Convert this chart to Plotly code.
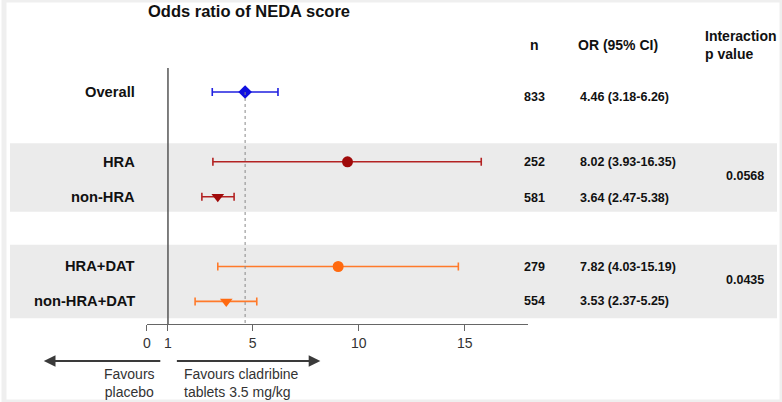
import plotly.graph_objects as go

# ---- data ----
labels = ["Overall", "HRA", "non-HRA", "HRA+DAT", "non-HRA+DAT"]
rows = [0, 2, 3, 5, 6]
or_point = [4.64, 9.47, 3.35, 9.03, 3.75]
ci_low = [3.09, 3.12, 2.60, 3.35, 2.28]
ci_high = [6.19, 15.78, 4.12, 14.70, 5.19]
n_values = ["833", "252", "581", "279", "554"]
or_text = ["4.46 (3.18-6.26)", "8.02 (3.93-16.35)", "3.64 (2.47-5.38)",
           "7.82 (4.03-15.19)", "3.53 (2.37-5.25)"]
p_values = ["0.0568", "0.0435"]
p_rows = [2.4, 5.4]
symbols = ["diamond", "circle", "triangle-down", "circle", "triangle-down"]
colors = ["#1010e0", "#a00a0a", "#a00a0a", "#ff6a10", "#ff6a10"]
line_colors = ["#2020e0", "#b32222", "#b32222", "#ff7a2a", "#ff7a2a"]
tick_vals = [0, 1, 5, 10, 15]

W, H = 782, 402
FONT = "Liberation Sans, Arial, Helvetica, sans-serif"

fig = go.Figure()

for i in range(len(labels)):
    fig.add_trace(go.Scatter(
        x=[or_point[i]], y=[rows[i]], mode="markers",
        marker=dict(symbol=symbols[i], size=11 if symbols[i] != "diamond" else 10.5,
                    color=colors[i], line=dict(width=0)),
        error_x=dict(type="data", symmetric=False,
                     array=[ci_high[i] - or_point[i]],
                     arrayminus=[or_point[i] - ci_low[i]],
                     color=line_colors[i], thickness=1.6, width=4),
        showlegend=False, hoverinfo="skip"))

# grey bands
for (y0, y1) in [(1.47, 3.43), (4.38, 6.48)]:
    fig.add_shape(type="rect", xref="paper", yref="y", x0=6 / W, x1=777 / W,
                  y0=y0, y1=y1, fillcolor="#ebebeb", line=dict(width=0), layer="below")

# reference lines
fig.add_shape(type="line", xref="x", yref="y", x0=1, x1=1, y0=-0.69, y1=6.648,
              line=dict(color="#555555", width=1.5))
fig.add_shape(type="line", xref="x", yref="y", x0=or_point[0], x1=or_point[0],
              y0=0, y1=6.648, line=dict(color="#888888", width=1, dash="dot"))

# border
fig.add_shape(type="rect", xref="paper", yref="paper", x0=0, x1=1, y0=0, y1=1,
              line=dict(color="#efefef", width=5), fillcolor="rgba(0,0,0,0)")

ann = []
def txt(text, x, y, size, bold=True, xanchor="center", xref="paper", yref="y", color="#111111", align="center"):
    ann.append(dict(text=f"<b>{text}</b>" if bold else text, x=x, y=y, xref=xref, yref=yref,
                    xanchor=xanchor, yanchor="middle", showarrow=False, align=align,
                    font=dict(family=FONT, size=size, color=color)))

txt("Odds ratio of NEDA score", 246.5 / W, -2.32, 16.5)
txt("n", 533 / W, -1.35, 14)
txt("OR (95% CI)", 617.5 / W, -1.35, 14)
txt("Interaction<br>p value", 703 / W, -1.35, 14, xanchor="left", align="left")

offsets = [0.15, 0, 0.03, 0.02, 0]
for i in range(len(labels)):
    txt(labels[i], 133.5 / W, rows[i], 14.7, xanchor="right")
    txt(n_values[i], 533 / W, rows[i] + offsets[i], 12.5)
    txt(or_text[i], 577 / W, rows[i] + offsets[i], 12.5, xanchor="left")
for j in range(len(p_values)):
    txt(p_values[j], 724 / W, p_rows[j] + 0.0, 12.5, xanchor="left")

# favours text
txt("Favours<br>placebo", 126 / W, 1 - 382.5 / H, 14, bold=False, yref="paper", color="#333333")
txt("Favours cladribine<br>tablets 3.5 mg/kg", 179 / W, 1 - 382.5 / H, 14, bold=False,
    xanchor="left", yref="paper", color="#333333", align="left")

# arrows
for tip, tail in [(40, 158), (318, 173)]:
    ann.append(dict(x=tip / W, y=1 - 361 / H, xref="paper", yref="paper",
                    ax=tail - tip, ay=0, axref="pixel", ayref="pixel",
                    showarrow=True, arrowhead=2, arrowsize=1.3, arrowwidth=1.8,
                    arrowcolor="#3a3a3a", text=""))

fig.update_layout(
    width=W, height=H, margin=dict(l=0, r=0, t=0, b=0),
    paper_bgcolor="white", plot_bgcolor="rgba(0,0,0,0)",
    annotations=ann,
    xaxis=dict(domain=[143.5 / W, 527 / W], range=[0, 18], tickvals=tick_vals,
               showgrid=False, zeroline=False, showline=True, linecolor="#666666",
               linewidth=1.3, ticks="outside", ticklen=6, tickcolor="#666666",
               tickfont=dict(family=FONT, size=14, color="#333333"), fixedrange=True),
    yaxis=dict(domain=[1 - 324 / H, 1], range=[6.648, -2.636], visible=False,
               showgrid=False, zeroline=False, fixedrange=True),
)

fig.write_html("out.html", config={"displayModeBar": False},
               post_script="document.body.style.margin='0';document.body.style.overflow='hidden';")
